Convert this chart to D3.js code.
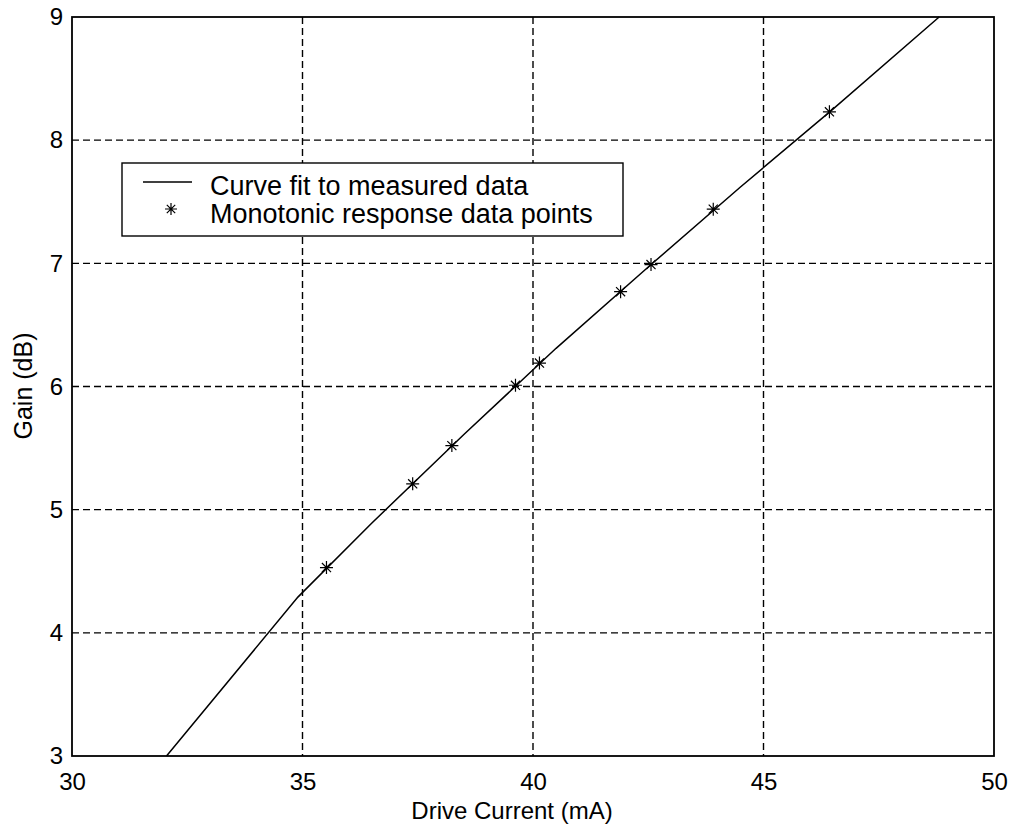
<!DOCTYPE html>
<html><head><meta charset="utf-8">
<script src="https://cdn.jsdelivr.net/npm/d3@7"></script>
<style>body{margin:0;background:#fff;} text{font-family:"Liberation Sans",Arial,sans-serif;fill:#000;}</style>
</head><body>
<svg id="c" width="1013" height="835"></svg>
<script>
const xTicks = [30, 35, 40, 45, 50];
const yTicks = [3, 4, 5, 6, 7, 8, 9];
const fitX = [32.05, 34.9, 36.5, 38.5, 40.5, 42.5, 44.5, 46.5, 48.81];
const fitY = [3.0, 4.29, 4.89, 5.61, 6.31, 6.97, 7.62, 8.25, 9.0];
const ptX = [35.52, 37.39, 38.24, 39.62, 40.14, 41.9, 42.56, 43.91, 46.43];
const ptY = [4.53, 5.21, 5.52, 6.01, 6.19, 6.77, 6.99, 7.44, 8.23];
const legendLabels = ["Curve fit to measured data", "Monotonic response data points"];
const xLabel = "Drive Current (mA)";
const yLabel = "Gain (dB)";

const L = 72, R = 994, T = 17, B = 756;
const svg = d3.select("#c");
const x = d3.scaleLinear().domain([30, 50]).range([L, R]);
const y = d3.scaleLinear().domain([3, 9]).range([B, T]);

// grid
const g = svg.append("g");
g.selectAll(".gx").data(xTicks.slice(1, -1)).join("line")
  .attr("x1", d => x(d)).attr("x2", d => x(d)).attr("y1", T).attr("y2", B)
  .attr("stroke", "#000").attr("stroke-width", 1.4).attr("stroke-dasharray", "7,4");
g.selectAll(".gy").data(yTicks.slice(1, -1)).join("line")
  .attr("y1", d => y(d)).attr("y2", d => y(d)).attr("x1", L).attr("x2", R)
  .attr("stroke", "#000").attr("stroke-width", 1.4).attr("stroke-dasharray", "7,4");

// axes
const xAxis = d3.axisBottom(x).tickValues(xTicks).tickSize(0).tickPadding(17).tickFormat(d3.format("d"));
const yAxis = d3.axisLeft(y).tickValues(yTicks).tickSize(0).tickPadding(9).tickFormat(d3.format("d"));
const ax = svg.append("g").attr("transform", `translate(0,${B})`).call(xAxis);
const ay = svg.append("g").attr("transform", `translate(${L},0)`).call(yAxis);
[ax, ay].forEach(a => { a.select(".domain").remove(); a.selectAll("text").style("font-size", "24px").attr("fill", "#000"); });
ax.selectAll("text").attr("dy", "0.71em");

svg.append("rect").attr("x", L).attr("y", T).attr("width", R - L).attr("height", B - T)
  .attr("fill", "none").attr("stroke", "#000").attr("stroke-width", 1.8);

// curve
const line = d3.line().x(d => x(d[0])).y(d => y(d[1]));
svg.append("path").datum(fitX.map((v, i) => [v, fitY[i]])).attr("d", line)
  .attr("fill", "none").attr("stroke", "#000").attr("stroke-width", 1.5);

// star markers
function star(sel, r) {
  const p = `M${-r},0L${r},0M0,${-r}L0,${r}M${-r*0.7},${-r*0.7}L${r*0.7},${r*0.7}M${-r*0.7},${r*0.7}L${r*0.7},${-r*0.7}`;
  sel.append("path").attr("d", p).attr("stroke", "#000").attr("stroke-width", 1.2).attr("fill", "none");
}
ptX.forEach((v, i) => {
  const s = svg.append("g").attr("transform", `translate(${x(v)},${y(ptY[i])})`);
  star(s, 6.5);
});

// legend
const lg = svg.append("g");
lg.append("rect").attr("x", 122).attr("y", 163).attr("width", 501).attr("height", 73)
  .attr("fill", "#fff").attr("stroke", "#000").attr("stroke-width", 1.4);
lg.append("line").attr("x1", 143).attr("x2", 192).attr("y1", 182).attr("y2", 182)
  .attr("stroke", "#000").attr("stroke-width", 1.5);
star(lg.append("g").attr("transform", "translate(171,209)"), 6);
lg.selectAll(".lt").data(legendLabels).join("text")
  .attr("x", 210).attr("y", (d, i) => 195 + i * 28)
  .style("font-size", "27px").text(d => d);

// labels
svg.append("text").attr("x", 512).attr("y", 819).attr("text-anchor", "middle")
  .style("font-size", "24px").text(xLabel);
svg.append("text").attr("transform", "translate(32,386) rotate(-90)").attr("text-anchor", "middle")
  .style("font-size", "25px").text(yLabel);
</script>
</body></html>
